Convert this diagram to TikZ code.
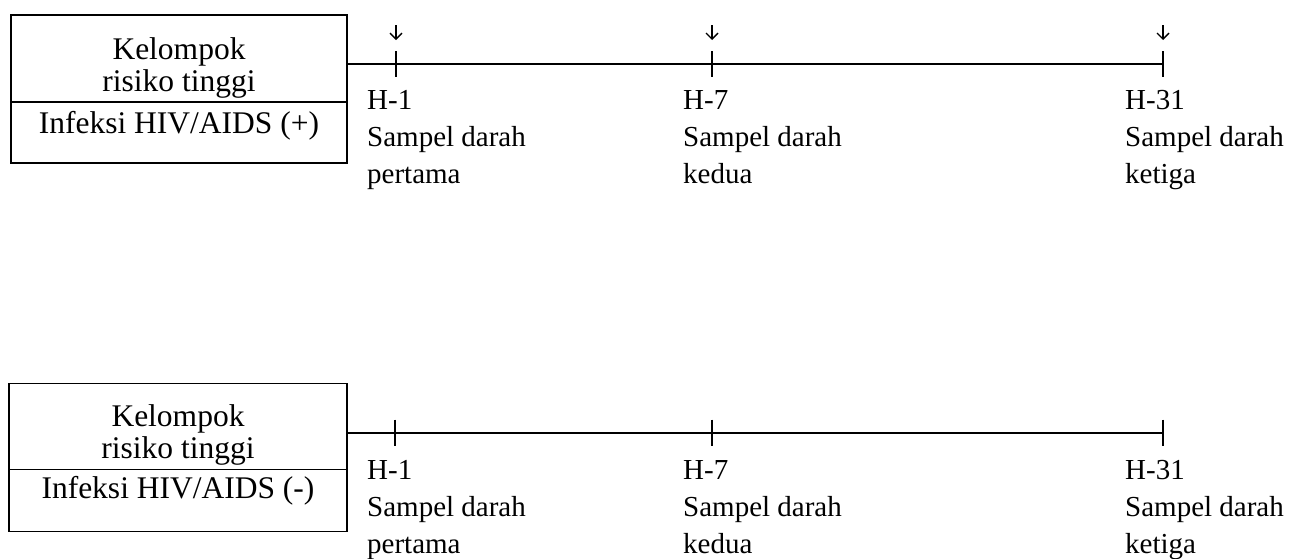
\documentclass[tikz,border=0pt]{standalone}
\usepackage{fontspec}
\setmainfont{Liberation Serif}
\usetikzlibrary{arrows.meta}
\begin{document}
\begin{tikzpicture}[x=1pt,y=-1pt,
  boxst/.style={draw, line width=1.6pt, minimum width=336pt, minimum height=148pt, inner sep=0},
  tlst/.style={line width=2pt},
  tickst/.style={line width=1.8pt},
  lab/.style={anchor=north west, inner sep=0, align=left, font=\fontsize{29}{37}\selectfont},
  btxt/.style={inner sep=0, align=center, font=\fontsize{31.5}{32}\selectfont},
  darr/.style={line width=1.4pt, -{Straight Barb[length=6pt,width=12pt,line width=1.4pt]}}]
\useasboundingbox (0,0) rectangle (1293,558);
% ---------- top row ----------
\node[boxst] (boxA) at (179,89) {};
\coordinate (dAl) at (11,102);
\coordinate (dAr) at (347,102);
\draw[line width=1.6pt] (dAl) -- (dAr);
\node[btxt, anchor=north] (kA) at (179,37) {Kelompok\\risiko tinggi};
\node[btxt, anchor=base] (iA) at (179,133) {Infeksi HIV/AIDS (+)};
\coordinate (sA) at (347,64);
\coordinate (eA) at (1163,64);
\draw[tlst] (sA) -- (eA);
\foreach \n/\x in {1/396,2/712,3/1163}{
  \coordinate (tA\n a) at (\x,51);
  \coordinate (tA\n b) at (\x,77);
  \draw[tickst] (tA\n a) -- (tA\n b);
  \coordinate (aA\n s) at (\x,25);
  \coordinate (aA\n e) at (\x,40);
  \draw[darr] (aA\n s) -- (aA\n e);
}
\node[lab] (lA1) at (367,90.5) {H-1\\Sampel darah\\pertama};
\node[lab] (lA2) at (683,90.5) {H-7\\Sampel darah\\kedua};
\node[lab] (lA3) at (1125,90.5) {H-31\\Sampel darah\\ketiga};
% ---------- bottom row ----------
\begin{scope}[yshift=-368.5pt]
\node[boxst, minimum width=338pt] (boxB) at (178,89) {};
\coordinate (dBl) at (9,101);
\coordinate (dBr) at (347,101);
\draw[line width=1.6pt] (dBl) -- (dBr);
\node[btxt, anchor=north] (kB) at (178,36) {Kelompok\\risiko tinggi};
\node[btxt, anchor=base] (iB) at (178,130) {Infeksi HIV/AIDS (-)};
\coordinate (sB) at (347,64);
\coordinate (eB) at (1163,64);
\draw[tlst] (sB) -- (eB);
\foreach \n/\x in {1/395,2/712,3/1163}{
  \coordinate (tB\n a) at (\x,51);
  \coordinate (tB\n b) at (\x,77);
  \draw[tickst] (tB\n a) -- (tB\n b);
}
\node[lab] (lB1) at (367,92) {H-1\\Sampel darah\\pertama};
\node[lab] (lB2) at (683,92) {H-7\\Sampel darah\\kedua};
\node[lab] (lB3) at (1125,92) {H-31\\Sampel darah\\ketiga};
\end{scope}
\end{tikzpicture}
\end{document}
